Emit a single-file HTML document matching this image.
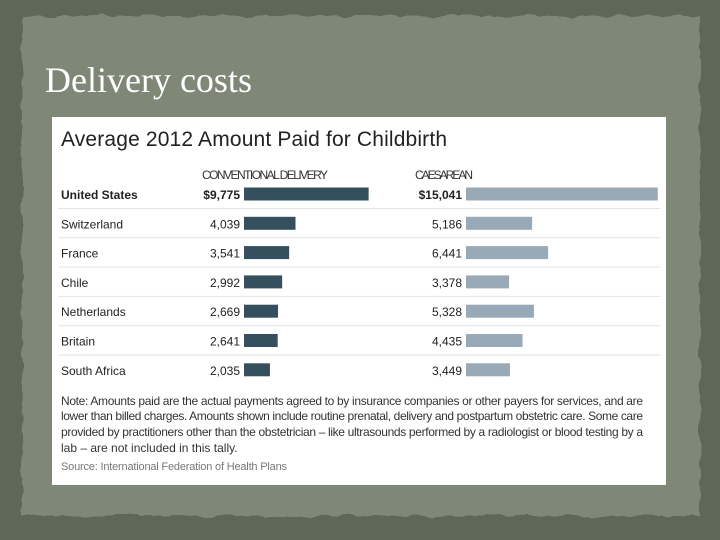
<!DOCTYPE html>
<html><head><meta charset="utf-8"><style>
body{margin:0;width:720px;height:540px;overflow:hidden;background:#5e6857;}
svg{display:block}
</style></head><body>
<svg width="720" height="540" xmlns="http://www.w3.org/2000/svg" font-family="Liberation Sans, sans-serif">
<defs>
<filter id="rough"><feTurbulence type="fractalNoise" baseFrequency="0.05" numOctaves="3" seed="3"/><feDisplacementMap in="SourceGraphic" scale="8"/></filter>
</defs>
<rect width="720" height="540" fill="#5e6857"/>
<rect x="22" y="16" width="678" height="500" fill="#7f8776" filter="url(#rough)"/>
<text x="45" y="92" font-family="Liberation Serif, serif" font-size="36" fill="#fff">Delivery costs</text>
<rect x="52" y="117" width="614" height="368" fill="#fff"/>
<text x="61" y="146" font-size="21" fill="#222" textLength="386">Average 2012 Amount Paid for Childbirth</text>
<text x="202" y="179" font-size="12" fill="#333" textLength="126">CONVENTIONAL DELIVERY</text>
<text x="415" y="179" font-size="12" fill="#333" textLength="58">CAESAREAN</text>
<g id="rows"></g>
<g font-size="12" fill="#333">
<text x="61" y="405" textLength="582">Note: Amounts paid are the actual payments agreed to by insurance companies or other payers for services, and are</text>
<text x="61" y="420" textLength="582">lower than billed charges. Amounts shown include routine prenatal, delivery and postpartum obstetric care. Some care</text>
<text x="61" y="436" textLength="582">provided by practitioners other than the obstetrician – like ultrasounds performed by a radiologist or blood testing by a</text>
<text x="61" y="452">lab – are not included in this tally.</text>
</g>
<text x="61" y="470" font-size="11" fill="#777" textLength="226">Source: International Federation of Health Plans</text>
</svg>
<script>
const countries=["United States","Switzerland","France","Chile","Netherlands","Britain","South Africa"];
const conventional=[9775,4039,3541,2992,2669,2641,2035];
const caesarean=[15041,5186,6441,3378,5328,4435,3449];
const NS="http://www.w3.org/2000/svg";
const g=document.getElementById('rows');
const scale=v=>v*0.01275;
const rowY=i=>194+i*29.3;
function mk(t,a){const e=document.createElementNS(NS,t);for(const k in a)e.setAttribute(k,a[k]);g.appendChild(e);return e;}
const fmt=(v,i)=>(i===0?'$':'')+v.toLocaleString('en-US');
countries.forEach((c,i)=>{
 const y=rowY(i);const b=i===0?'bold':'normal';
 const l=mk('text',{x:61,y:y+5,'font-size':12,'font-weight':b,fill:'#222'});l.textContent=c;
 
 
 const v1=mk('text',{x:240,y:y+5,'font-size':12,'font-weight':b,fill:'#222','text-anchor':'end'});v1.textContent=fmt(conventional[i],i);
 
 
 const r1=mk('rect',{x:244,y:y-6.5,width:scale(conventional[i]),height:13,fill:'#354f5f'});
 
 
 const v2=mk('text',{x:462,y:y+5,'font-size':12,'font-weight':b,fill:'#222','text-anchor':'end'});v2.textContent=fmt(caesarean[i],i);
 
 
 const r2=mk('rect',{x:466,y:y-6.5,width:scale(caesarean[i]),height:13,fill:'#98aab8'});
 
 
 if(i<countries.length-1){const s=mk('line',{x1:58,x2:660,y1:y+14.5,y2:y+14.5,stroke:'#e3e3e3'});
 
 }
});
</script>
</body></html>
